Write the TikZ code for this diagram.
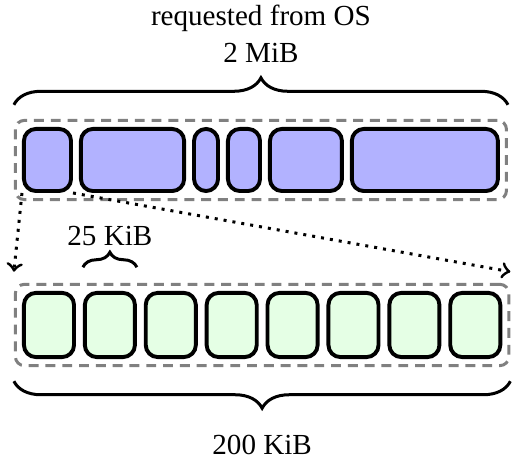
\documentclass[tikz,border=0pt]{standalone}
\usepackage{fontspec}
\setmainfont{Liberation Serif}
\usetikzlibrary{positioning,fit,calc,decorations.pathreplacing}

\begin{document}
\begin{tikzpicture}
        \tikzstyle{every node}=[font=\fontsize{9.7}{11.6}\selectfont];
        \tikzstyle{chunk}=[rectangle, rounded corners=4pt, draw, line width=1.3pt, fill=blue!30, minimum height=20.7pt, inner sep=0pt];
        \tikzstyle{slot}=[chunk, fill=green!10, minimum width=16.7pt, minimum height=21.4pt];
        \tikzstyle{region}=[draw=gray, dash pattern=on 3.3pt off 2.3pt, line width=1pt, rounded corners=3pt, inner sep=2.2pt];
        \tikzstyle{brace}=[decorate, decoration={brace, amplitude=9pt}, line width=1pt];
        \tikzstyle{copy}=[->, dotted, line width=1pt];
        \useasboundingbox (0,0) rectangle (172pt,-155.33pt);
        % memory requested from the OS
        \node (t1) [chunk, minimum width=15.7pt] at (15.83pt,-53.33pt) {};
        \node (t2) [chunk, minimum width=34.4pt, right=2pt of t1] {};
        \node (t3) [chunk, minimum width=8pt, right=2pt of t2] {};
        \node (t4) [chunk, minimum width=10.7pt, right=2pt of t3] {};
        \node (t5) [chunk, minimum width=24pt, right=2pt of t4] {};
        \node (t6) [chunk, minimum width=48.7pt, right=2pt of t5] {};
        \node (heap) [region, fit=(t1) (t6)] {};
        % pool of equal slots
        \node (b1) [slot] at (16.33pt,-108.33pt) {};
        \foreach \i [count=\j from 1] in {2,...,8} \node (b\i) [slot, right=2.3pt of b\j] {};
        \node (pool) [region, fit=(b1) (b8)] {};
        \coordinate (l) at ($(pool.north west)+(0,3.7pt)$);
        \coordinate (r) at ($(pool.north east)+(0,3.7pt)$);
        \draw[copy] (t1.south west) -- (l);
        \draw[copy] (t1.south east) -- (r);
        % braces
        \coordinate (hl) at ($(heap.north west)+(0,4.7pt)$);
        \coordinate (hr) at ($(heap.north east)+(0,4.7pt)$);
        \draw[brace] (hl) -- (hr);
        \node (size) [anchor=base] at ($(hl)!0.5!(hr)+(0,14pt)$) {2 MiB};
        \node (req) [anchor=base] at ($(size.base)+(0,12.3pt)$) {requested from OS};
        \coordinate (pl) at ($(pool.south west)+(0,-4.7pt)$);
        \coordinate (pr) at ($(pool.south east)+(0,-4.7pt)$);
        \draw[brace, decoration={mirror}] (pl) -- (pr);
        \node (total) [anchor=base] at ($(pl)!0.5!(pr)+(0,-24.3pt)$) {200 KiB};
        \coordinate (sl) at ($(b2.west |- pool.north)+(0,5.2pt)$);
        \coordinate (sr) at ($(b2.east |- pool.north)+(0,5.2pt)$);
        \draw[brace, decoration={amplitude=5pt}] (sl) -- (sr);
        \node (unit) [anchor=base] at ($(sl)!0.5!(sr)+(0,7.3pt)$) {25 KiB};
\end{tikzpicture}
\end{document}
